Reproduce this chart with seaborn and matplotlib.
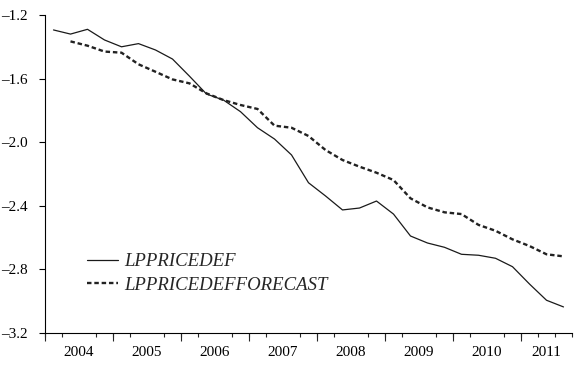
import numpy as np
import pandas as pd
import matplotlib
matplotlib.use("Agg")
import matplotlib.pyplot as plt
import seaborn as sns

# quarterly sample 2004Q1 - 2011Q3
quarters = pd.period_range("2004Q1", "2011Q3", freq="Q")

lppricedef = [-1.294, -1.320, -1.290, -1.357, -1.400, -1.380, -1.420, -1.477,
              -1.585, -1.697, -1.735, -1.808, -1.909, -1.980, -2.080, -2.255,
              -2.338, -2.426, -2.414, -2.370, -2.452, -2.590, -2.634, -2.661,
              -2.705, -2.711, -2.730, -2.783, -2.892, -2.994, -3.036]

lppricedef_forecast = [np.nan, -1.366, -1.393, -1.430, -1.437, -1.510, -1.557, -1.605,
                       -1.630, -1.693, -1.735, -1.766, -1.791, -1.896, -1.909, -1.961,
                       -2.049, -2.112, -2.154, -2.192, -2.238, -2.353, -2.410, -2.441,
                       -2.452, -2.520, -2.557, -2.611, -2.653, -2.705, -2.718]

year_labels = ["2004", "2005", "2006", "2007", "2008", "2009", "2010", "2011"]
y_ticks = [-1.2, -1.6, -2.0, -2.4, -2.8, -3.2]

# each quarter plotted in the middle of its interval
x = quarters.year + (quarters.quarter - 0.5) / 4.0
x_start = quarters[0].year
x_end = quarters[-1].year + quarters[-1].quarter / 4.0

df = pd.DataFrame({"t": x, "LPPRICEDEF": lppricedef,
                   "LPPRICEDEFFORECAST": lppricedef_forecast})

sns.set_style("ticks")
plt.rcParams["font.family"] = ["Liberation Serif", "DejaVu Serif"]

fig = plt.figure(figsize=(5.75, 3.69), dpi=100)
ax = fig.add_axes([45 / 575, 1 - 333 / 369, 527 / 575, 318 / 369])

sns.lineplot(data=df, x="t", y="LPPRICEDEF", ax=ax, color="#1a1a1a",
             linewidth=0.9, label="LPPRICEDEF")
sns.lineplot(data=df, x="t", y="LPPRICEDEFFORECAST", ax=ax, color="#222222",
             linewidth=1.7, dashes=(1.9, 1.2), label="LPPRICEDEFFORECAST")

ax.set_xlim(x_start, x_end)
ax.set_ylim(-3.2, -1.2)
ax.set_xlabel("")
ax.set_ylabel("")
ax.spines["top"].set_visible(False)
ax.spines["right"].set_visible(False)
for s in ["left", "bottom"]:
    ax.spines[s].set_linewidth(0.8)
    ax.spines[s].set_color("black")

# y axis
ax.set_yticks(y_ticks)
ax.set_yticklabels([f"{v:.1f}".replace("-", "\u2013") for v in y_ticks])
ax.tick_params(axis="y", direction="out", length=4.3, width=0.8,
               pad=8, labelsize=11, colors="black")

# year labels centred in each (visible) year span, no tick lines
yrs = np.arange(x_start, x_start + len(year_labels))
label_pos = [(y + min(y + 1, x_end)) / 2 for y in yrs]
ax.set_xticks(label_pos)
ax.set_xticklabels(year_labels)
ax.tick_params(axis="x", which="major", length=0, pad=9, labelsize=11,
               colors="black")

# quarter ticks (short) and year ticks (long)
ax.set_xticks(np.arange(x_start, x_end + 0.01, 0.25), minor=True)
ax.tick_params(axis="x", which="minor", direction="out", length=2.9, width=0.8)
sec = ax.secondary_xaxis("bottom")
sec.set_xticks(yrs)
sec.set_xticklabels([])
sec.tick_params(axis="x", direction="out", length=5.8, width=0.8)
sec.spines["bottom"].set_visible(False)

ax.legend(loc="lower left", bbox_to_anchor=(0.08, 0.124), frameon=False,
          prop={"style": "italic", "size": 13.5}, handlelength=1.65,
          handletextpad=0.3, labelspacing=0.33, borderpad=0, borderaxespad=0)

fig.savefig("out.png", dpi=100)
